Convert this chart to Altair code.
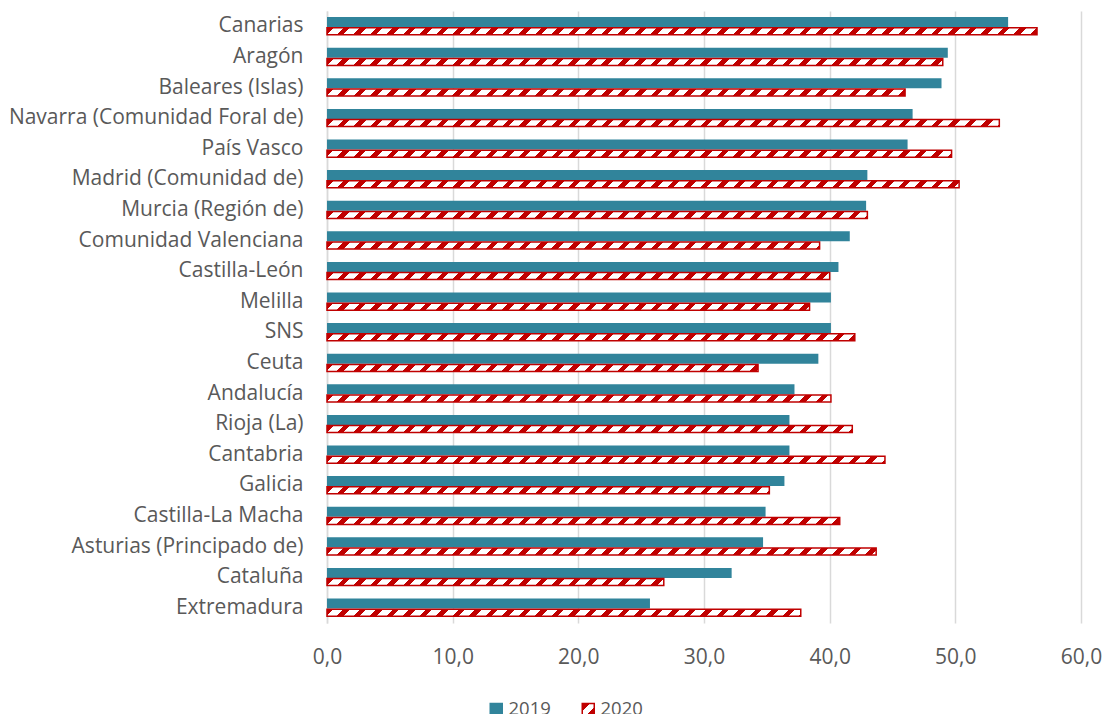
import altair as alt
import pandas as pd

# Categories, top to bottom
regions = [
    "Canarias", "Aragón", "Baleares (Islas)", "Navarra (Comunidad Foral de)",
    "País Vasco", "Madrid (Comunidad de)", "Murcia (Región de)",
    "Comunidad Valenciana", "Castilla-León", "Melilla", "SNS", "Ceuta",
    "Andalucía", "Rioja (La)", "Cantabria", "Galicia", "Castilla-La Macha",
    "Asturias (Principado de)", "Cataluña", "Extremadura",
]
values_2019 = [54.2, 49.4, 48.9, 46.6, 46.2, 43.0, 42.9, 41.6, 40.7, 40.1,
               40.1, 39.1, 37.2, 36.8, 36.8, 36.4, 34.9, 34.7, 32.2, 25.7]
values_2020 = [56.5, 49.0, 46.0, 53.5, 49.7, 50.3, 43.0, 39.2, 40.0, 38.4,
               42.0, 34.3, 40.1, 41.8, 44.4, 35.2, 40.8, 43.7, 26.8, 37.7]
years = ["2019", "2020"]
x_ticks = [0, 10, 20, 30, 40, 50, 60]

TEAL = "#31849B"
RED = "#C00000"
WHITE = "#FFFFFF"
GRID = "#D9D9D9"
TEXT = "#595959"
FONT = "Open Sans"

WIDTH, HEIGHT = 754, 612
X_MAX = 60
HATCH_H = 7.0  # thickness of the hatched bars

rows = []
for r, a, b in zip(regions, values_2019, values_2020):
    rows.append({"region": r, "year": years[0], "value": a})
    rows.append({"region": r, "year": years[1], "value": b})
df = pd.DataFrame(rows)


def hatch(value, period=16.5, ink=0.4):
    """Diagonal red/white stripes as a hard-stop gradient in the bar's own box."""
    w = value * WIDTH / X_MAX
    k = HATCH_H / w
    span = w * (1 + k) * (1 + k * k)
    stops = []
    s = 0.0
    while s < w + HATCH_H:
        a = min(s / span, 1.0)
        b = min((s + ink * period) / span, 1.0)
        c = min((s + period) / span, 1.0)
        stops += [(a, RED), (b, RED), (b, WHITE), (c, WHITE)]
        s += period
    return alt.LinearGradient(
        gradient="linear", x1=0, y1=0, x2=1 + k, y2=k * (1 + k),
        stops=[alt.GradientStop(offset=round(o, 5), color=col) for o, col in stops],
    )


# Small hatched swatch for the legend, written as a Vega expression literal
swatch_stops = [(0.0, RED), (0.32, RED), (0.32, WHITE), (0.66, WHITE), (0.66, RED), (1.0, RED)]
swatch_expr = (
    "{gradient: 'linear', x1: 0, y1: 0, x2: 1, y2: 1, stops: ["
    + ", ".join(f"{{offset: {o}, color: '{c}'}}" for o, c in swatch_stops)
    + "]}"
)

x_enc = alt.X(
    "value:Q",
    scale=alt.Scale(domain=[0, X_MAX], nice=False, zero=True),
    axis=alt.Axis(
        values=x_ticks, title=None, domain=False, ticks=False,
        grid=True, gridColor=GRID, gridWidth=1.5,
        labelExpr="replace(format(datum.value, '.1f'), '.', ',')",
        labelFlush=False, labelOverlap=False,
        labelFont=FONT, labelFontSize=21, labelColor=TEXT, labelPadding=23,
    ),
)
y_enc = alt.Y(
    "region:N",
    sort=regions,
    scale=alt.Scale(paddingInner=0, paddingOuter=0),
    axis=alt.Axis(
        title=None, ticks=False, domain=True, domainColor=GRID, domainWidth=1.5,
        grid=False, labelFont=FONT, labelFontSize=21, labelColor=TEXT,
        labelPadding=24, labelLimit=500,
    ),
)

bars_2019 = (
    alt.Chart()
    .transform_filter(alt.datum.year == years[0])
    .mark_bar(size=10, yOffset=-4.2)
    .encode(
        x=x_enc,
        y=y_enc,
        color=alt.Color(
            "year:N",
            scale=alt.Scale(domain=years, range=[TEAL, alt.ExprRef(swatch_expr)]),
            legend=alt.Legend(
                title=None, orient="none", direction="horizontal",
                legendX=160, legendY=689,
                symbolType="square", symbolSize=144,
                symbolStrokeColor=alt.ExprRef(f"datum.value === '2020' ? '{RED}' : '{TEAL}'"),
                symbolStrokeWidth=1.5,
                labelFont=FONT, labelFontSize=18.5, labelColor=TEXT,
                labelOffset=3, columnPadding=28,
            ),
        ),
    )
)

layers = [bars_2019]
for r, v in zip(regions, values_2020):
    layers.append(
        alt.Chart()
        .transform_filter((alt.datum.year == years[1]) & (alt.datum.region == r))
        .mark_bar(size=HATCH_H, yOffset=5.0, fill=hatch(v), stroke=RED, strokeWidth=1.5)
        .encode(x=x_enc, y=y_enc)
    )

chart = (
    alt.layer(*layers, data=df)
    .properties(
        width=WIDTH, height=HEIGHT,
        autosize=alt.AutoSizeParams(type="none"),
        padding={"left": 327, "top": 11, "right": 1104 - 327 - WIDTH, "bottom": 714 - 11 - HEIGHT},
    )
    .configure(background="white")
    .configure_view(stroke=None)
)

chart.save("out.html", embed_options={"renderer": "svg", "actions": False})
